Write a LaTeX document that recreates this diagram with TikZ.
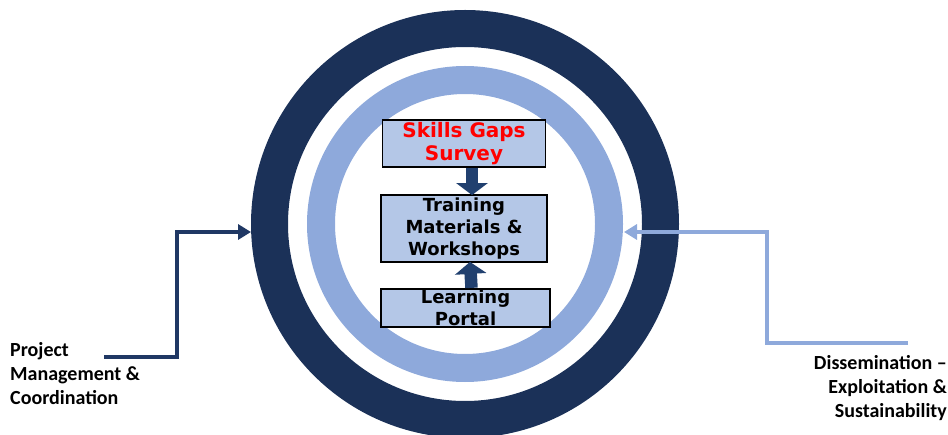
\documentclass[tikz,border=0pt]{standalone}
\usepackage{fontspec}
\setmainfont{Carlito}
\newfontfamily\boxfont{DejaVu Sans}
\usetikzlibrary{arrows.meta,positioning,calc}
\definecolor{ringdark}{HTML}{1B3158}
\definecolor{ringlight}{HTML}{8EA9DB}
\definecolor{boxfill}{HTML}{B4C7E7}
\definecolor{flowblue}{HTML}{21406F}
\definecolor{pmblue}{HTML}{203864}
\definecolor{skillsred}{HTML}{FF0000}

\begin{document}
\begin{tikzpicture}[
        x=1pt, y=-1pt,
        ring/.style={circle, inner sep=0pt, outer sep=0pt},
        stage/.style={draw=black, line width=1.8pt, fill=boxfill, inner sep=0pt,
            align=center, font=\boxfont\bfseries\fontsize{18}{22}\selectfont},
        flow/.style={draw=flowblue, line width=12.5pt,
            -{Triangle[width=31pt,length=12pt]}},
        side/.style={line width=4.5pt, line join=miter,
            -{Triangle[width=15pt,length=13pt]}},
        sidetext/.style={inner sep=0pt, font=\bfseries\fontsize{20}{24}\selectfont},
    ]
    \useasboundingbox (0,0) rectangle (948,435);
    % rings
    \node[ring, draw=ringdark, line width=37pt, minimum size=391pt] (outerring) at (465,224) {};
    \node[ring, draw=ringlight, line width=28pt, minimum size=288pt] (innerring) at (465,224) {};
    % stages
    \node[stage, minimum width=166pt, minimum height=67pt] (training) at (464,228.5)
        {Training\\Materials \&\\Workshops};
    \node[stage, minimum width=163pt, minimum height=47pt, text=skillsred,
        font=\boxfont\bfseries\fontsize{20}{23}\selectfont,
        above=26pt of training] (survey) {Skills Gaps\\Survey};
    \node[stage, minimum width=169pt, minimum height=38pt, text depth=0pt,
        below=25pt of training.south east, anchor=north east, xshift=3pt] (portal) {Learning\\Portal};
    \draw[flow] ([xshift=8pt]survey.south) -- ([xshift=8pt,yshift=-1pt]training.north);
    \draw[flow] ([xshift=6pt]portal.north) -- ([xshift=6pt,yshift=1pt]training.south);
    % side inputs
    \node[sidetext, align=left, anchor=north west] (pm) at (10,342)
        {Project\\Management \&\\Coordination};
    \node[sidetext, align=right, anchor=north east] (de) at (947,355)
        {Dissemination –\\Exploitation \&\\Sustainability};
    \coordinate (pm-out) at (104,357);
    \coordinate (pm-in) at (251,232);
    \coordinate (de-out) at (908,343);
    \coordinate (de-in) at (624,232);
    \draw[side, pmblue] (pm-out) -| (177,232) -- (pm-in);
    \draw[side, ringlight] (de-out) -| (767,232) -- (de-in);
\end{tikzpicture}
\end{document}
